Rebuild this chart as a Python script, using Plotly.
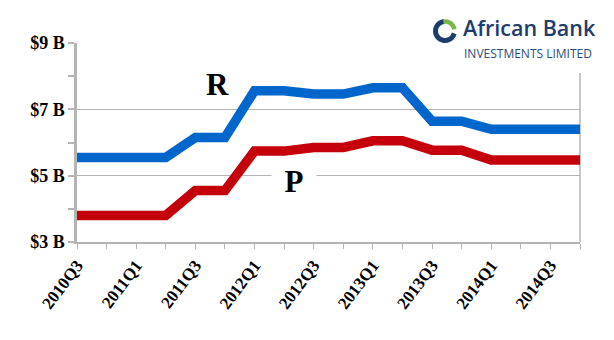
import math
import plotly.graph_objects as go

# ---- data ----
quarters = ["2010Q3", "2010Q4", "2011Q1", "2011Q2", "2011Q3", "2011Q4",
            "2012Q1", "2012Q2", "2012Q3", "2012Q4", "2013Q1", "2013Q2",
            "2013Q3", "2013Q4", "2014Q1", "2014Q2", "2014Q3", "2014Q4"]
series_R = [5.55, 5.55, 5.55, 5.55, 6.15, 6.15, 7.56, 7.56, 7.46, 7.46,
            7.65, 7.65, 6.64, 6.64, 6.40, 6.40, 6.40, 6.40]
series_P = [3.80, 3.80, 3.80, 3.80, 4.55, 4.55, 5.74, 5.74, 5.85, 5.85,
            6.05, 6.05, 5.77, 5.77, 5.47, 5.47, 5.47, 5.47]
y_tickvals = [3, 5, 7, 9]
y_ticktext = ["$3 B", "$5 B", "$7 B", "$9 B"]
x_ticktext = [q if i % 2 == 0 else "" for i, q in enumerate(quarters)]

W, H = 614, 340
L, R, T, B = 77, 34, 43, 98
PW, PH = W - L - R, H - T - B


def px(x):
    return (x - L) / PW


def py(y):
    return (H - B - y) / PH


GRID = "#b4b4b4"
BLUE = "#0066cc"
RED = "#c4000a"
NAVY = "#1d3d6e"

fig = go.Figure()
fig.add_trace(go.Scatter(x=quarters, y=series_R, mode="lines",
                         line=dict(color=BLUE, width=9.5), hoverinfo="skip"))
fig.add_trace(go.Scatter(x=quarters, y=series_P, mode="lines",
                         line=dict(color=RED, width=9.5), hoverinfo="skip"))

fig.update_layout(
    width=W, height=H,
    margin=dict(l=L, r=R, t=T, b=B, pad=0),
    paper_bgcolor="white", plot_bgcolor="white",
    showlegend=False,
    font=dict(family="Liberation Serif", color="black"),
)
fig.update_xaxes(
    type="category", range=[0, len(quarters) - 1],
    tickmode="array", tickvals=quarters, ticktext=x_ticktext,
    tickangle=-53, ticks="outside", ticklen=5, tickwidth=1, tickcolor=GRID,
    showline=True, linecolor=GRID, linewidth=1.5, showgrid=False,
    tickfont=dict(family="Liberation Serif", size=17, color="black", weight="bold"),
    zeroline=False,
)
fig.update_yaxes(
    range=[3, 9], tickmode="array", tickvals=y_tickvals, ticktext=y_ticktext,
    ticks="outside", ticklen=6, tickwidth=2, tickcolor=GRID,
    showline=True, linecolor=GRID, linewidth=2.5,
    showgrid=True, gridcolor=GRID, gridwidth=1, zeroline=False,
    minor=dict(tickvals=[4, 6, 8], ticks="outside", ticklen=6, tickwidth=2,
               tickcolor=GRID, showgrid=False),
    tickfont=dict(family="Liberation Serif", size=18, color="black", weight="bold"),
)

# right border of plot area
fig.add_shape(type="line", xref="x domain", yref="y domain", x0=1, x1=1,
              y0=0, y1=1, line=dict(color=GRID, width=1.5), layer="below")

# series labels
fig.add_annotation(text="<b>R</b>", x=px(217), y=py(84), xref="paper", yref="paper",
                   xanchor="center", yanchor="middle",
                   showarrow=False, font=dict(family="Liberation Serif", size=31, color="black"))
fig.add_annotation(text="<b>P</b>", x=px(294), y=py(181), xref="paper", yref="paper",
                   xanchor="center", yanchor="middle",
                   showarrow=False, bgcolor="white", width=42, height=30,
                   font=dict(family="Liberation Serif", size=31, color="black"))

# logo block (white background + icon + text)
fig.add_shape(type="rect", xref="paper", yref="paper", x0=px(412), x1=px(W + 5),
              y0=py(73), y1=py(-5), fillcolor="white", line=dict(width=0), layer="above")


def arc(cx, cy, r, a0, a1, n=24):
    pts = []
    for k in range(n + 1):
        a = math.radians(a0 + (a1 - a0) * k / n)
        pts.append((px(cx + r * math.cos(a)), py(cy - r * math.sin(a))))
    return "M " + " L ".join(f"{x:.5f},{y:.5f}" for x, y in pts)


fig.add_shape(type="path", xref="paper", yref="paper", path=arc(445, 31, 9.5, 95, 345),
              line=dict(color=NAVY, width=5), layer="above")
fig.add_shape(type="path", xref="paper", yref="paper", path=arc(445, 31, 9.5, 10, 100),
              line=dict(color="#7ab648", width=4.5), layer="above")

fig.add_annotation(text="African Bank", x=px(461), y=py(44), xref="paper", yref="paper",
                   xanchor="left", yanchor="bottom", showarrow=False,
                   font=dict(family="Open Sans", size=21.5, color=NAVY, weight=600))
fig.add_annotation(text="INVESTMENTS LIMITED", x=px(462), y=py(43), xref="paper", yref="paper",
                   xanchor="left", yanchor="top", showarrow=False,
                   font=dict(family="Open Sans", size=12, color="#2a4d7e"))

fig.write_html("out.html")
